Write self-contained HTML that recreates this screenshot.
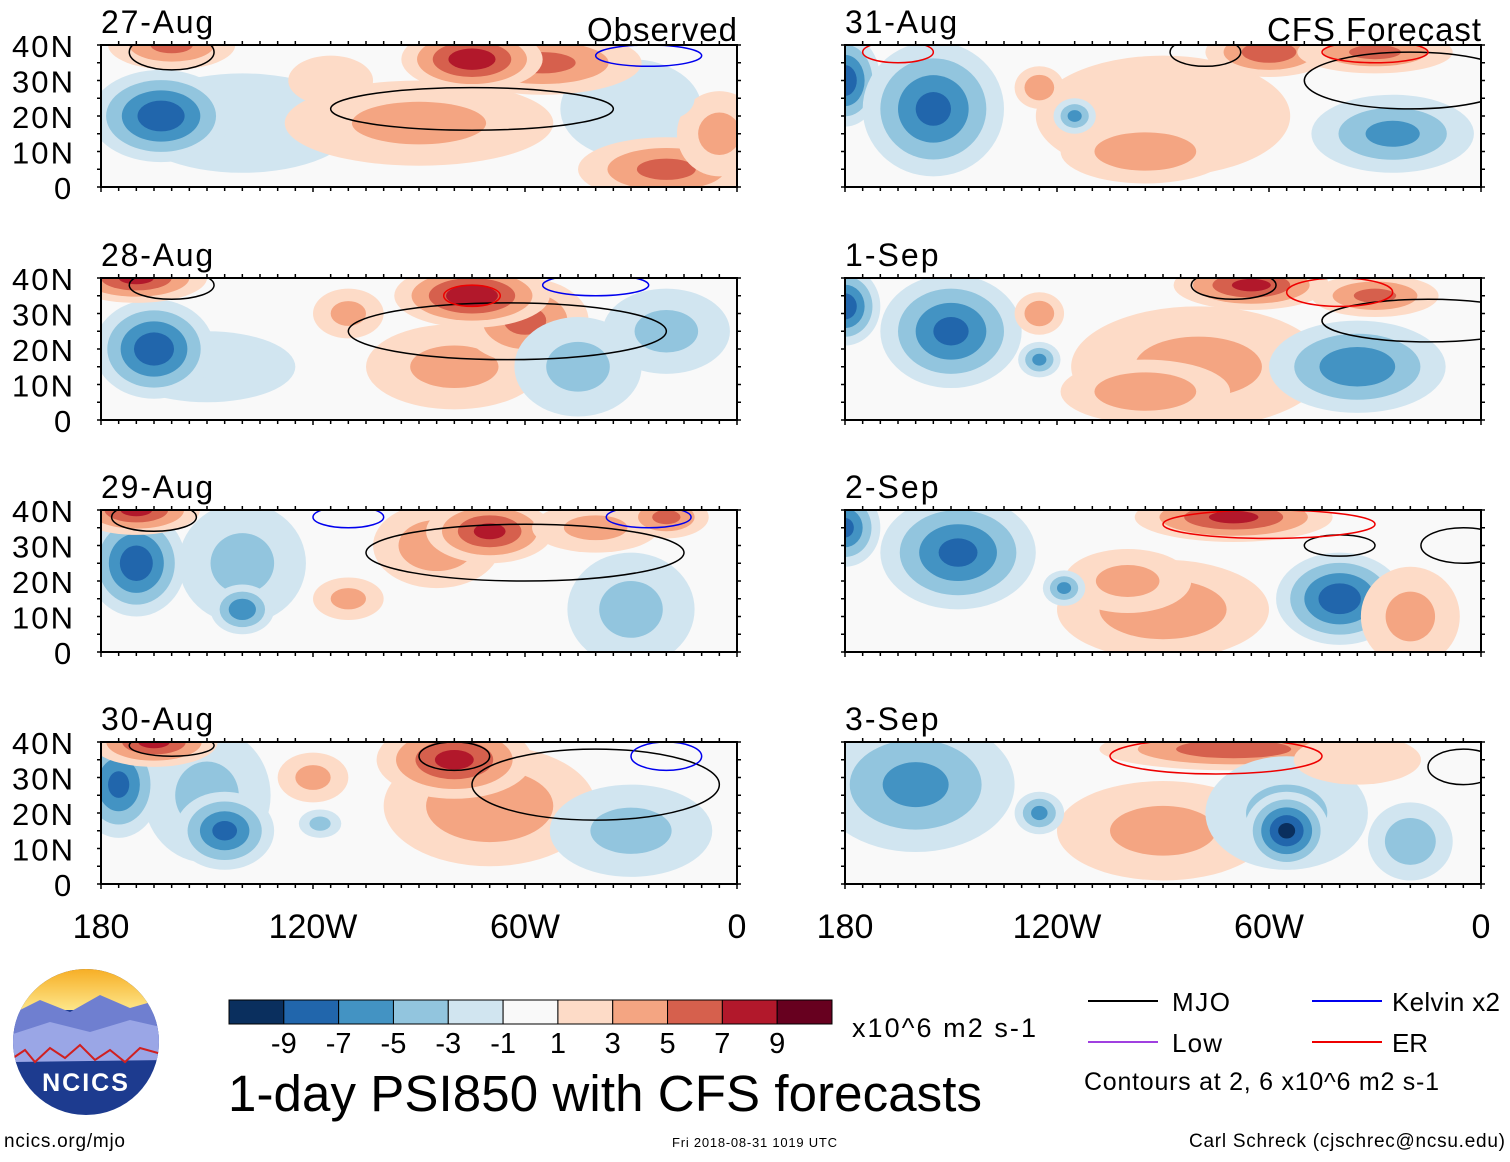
<!DOCTYPE html>
<html><head><meta charset="utf-8">
<style>
body{margin:0;background:#fff;width:1510px;height:1157px;overflow:hidden;font-family:"Liberation Sans",sans-serif;}
svg text{font-family:"Liberation Sans",sans-serif;}
</style></head>
<body>
<svg id="fig" width="1510" height="1157" xmlns="http://www.w3.org/2000/svg">
<defs>
<linearGradient id="sky" x1="0" y1="0" x2="0" y2="1"><stop offset="0" stop-color="#f6a91c"/><stop offset="1" stop-color="#fde68a"/></linearGradient>
<clipPath id="logoclip"><circle cx="86" cy="1042" r="73"/></clipPath>
</defs>
<g id="panels"></g>
<g clip-path="url(#logoclip)">
<rect x="10" y="965" width="155" height="160" fill="#1d3b8f"/>
<rect x="10" y="965" width="155" height="45" fill="url(#sky)"/>
<path d="M10 1015 L40 1000 L70 1012 L100 995 L130 1008 L165 998 L165 1040 L10 1045Z" fill="#6f7fd0"/>
<path d="M10 1035 L50 1022 L90 1032 L130 1020 L165 1028 L165 1060 L10 1062Z" fill="#9aa6e6"/>
<path d="M10 1060 L25 1050 L35 1062 L50 1048 L65 1058 L80 1045 L95 1060 L110 1050 L125 1062 L140 1048 L165 1055" fill="none" stroke="#d02020" stroke-width="2"/>
</g>
<text x="86" y="1091" font-size="25" font-weight="bold" fill="#fff" text-anchor="middle" letter-spacing="2">NCICS</text>
<text x="4" y="1147" font-size="19" textLength="121">ncics.org/mjo</text>
<text x="672" y="1147" font-size="13" textLength="165">Fri 2018-08-31 1019 UTC</text>
<text x="1189" y="1147" font-size="19" textLength="316">Carl Schreck (cjschrec@ncsu.edu)</text>
<text x="228" y="1111" font-size="51" textLength="754">1-day PSI850 with CFS forecasts</text>
<g id="cbar"></g>
<text x="852" y="1037" font-size="27" textLength="184">x10^6 m2 s-1</text>
<g>
<line x1="1088" y1="1001" x2="1158" y2="1001" stroke="#000" stroke-width="2"/><text x="1172" y="1011" font-size="26" textLength="58">MJO</text>
<line x1="1312" y1="1001" x2="1382" y2="1001" stroke="#0000ee" stroke-width="2"/><text x="1392" y="1011" font-size="26" textLength="108">Kelvin x2</text>
<line x1="1088" y1="1042" x2="1158" y2="1042" stroke="#a040e0" stroke-width="2"/><text x="1172" y="1052" font-size="26" textLength="50">Low</text>
<line x1="1312" y1="1042" x2="1382" y2="1042" stroke="#ee0000" stroke-width="2"/><text x="1392" y="1052" font-size="26" textLength="36">ER</text>
<text x="1084" y="1090" font-size="25" textLength="355">Contours at 2, 6 x10^6 m2 s-1</text>
</g>
</svg>
<script>
const colors=["#0a2f5e","#2166ac","#4393c3","#92c5de","#d1e5f0","#f9f9f9","#fddbc7","#f4a582","#d6604d","#b2182b","#67001f"];
const cbLabels=["-9","-7","-5","-3","-1","1","3","5","7","9"];
const panelDates=["27-Aug","28-Aug","29-Aug","30-Aug","31-Aug","1-Sep","2-Sep","3-Sep"];
const latTicks=["40N","30N","20N","10N","0"];
const lonTicks=["180","120W","60W","0"];
// blobs: [lon, lat, lonRadius, latRadius, peakValue]
const blobs0=[[-140,18,32,14,-2],[-30,22,20,14,-2],[-163,20,20,13,-8],[-90,18,38,12,3],[-55,35,28,9,5],[-75,36,20,9,8],[-160,40,18,7,5],[-20,5,25,9,5],[-5,15,12,12,3],[-115,30,12,7,2],[-20,25,8,6,-2]];
const blobs1=[[-150,15,25,10,-2],[-165,20,17,14,-8],[-170,40,20,7,7],[-80,15,25,12,3],[-60,28,18,12,5],[-75,35,22,9,8],[-45,15,18,14,-3],[-20,25,18,12,-3],[-140,15,12,6,-2],[-110,30,10,7,3]];
const blobs2=[[-140,25,18,17,-3],[-170,25,14,15,-8],[-140,12,9,7,-6],[-170,40,18,7,7],[-85,30,18,12,4],[-70,34,18,9,7],[-40,35,18,7,3],[-30,12,18,16,-3],[-110,15,10,6,3],[-20,38,12,6,5]];
const blobs3=[[-150,25,18,19,-3],[-175,28,12,15,-7],[-145,15,14,11,-7],[-165,40,18,7,7],[-70,22,30,17,4],[-80,35,22,11,7],[-30,15,23,13,-3],[-120,30,10,7,3],[-118,17,6,4,-3]];
const blobs4=[[-90,20,36,17,2],[-95,10,24,9,4],[-180,30,10,13,-8],[-155,22,20,19,-7],[-115,20,6,5,-5],[-60,38,18,7,6],[-30,38,22,6,5],[-125,28,7,6,4],[-25,15,23,11,-5]];
const blobs5=[[-80,15,36,17,3],[-95,8,24,9,4],[-180,32,10,11,-8],[-150,25,20,16,-7],[-125,17,6,5,-5],[-65,38,22,7,7],[-30,35,18,6,5],[-125,30,7,6,4],[-35,15,25,13,-6]];
const blobs6=[[-90,12,30,14,4],[-100,20,18,9,3],[-180,35,10,11,-7],[-148,28,22,16,-7],[-118,18,6,5,-5],[-70,38,28,7,7],[-40,15,18,13,-8],[-20,10,14,14,3]];
const blobs7=[[-90,15,30,14,3],[-160,28,28,19,-5],[-125,20,7,6,-5],[-70,38,38,6,6],[-55,20,23,16,-3],[-55,15,12,11,-9],[-20,12,12,11,-4],[-35,35,18,7,2]];
const allBlobs=[blobs0,blobs1,blobs2,blobs3,blobs4,blobs5,blobs6,blobs7];
// contours: [lon, lat, lonRadius, latRadius, type] type 0=MJO black,1=Kelvin blue,2=ER red
const cont0=[[-75,22,40,6,0],[-160,38,12,5,0],[-25,37,15,3,1]];
const cont1=[[-65,25,45,8,0],[-160,38,12,4,0],[-40,38,15,3,1],[-75,35,8,3,2]];
const cont2=[[-60,28,45,8,0],[-165,38,12,4,0],[-25,38,12,3,1],[-110,38,10,3,1]];
const cont3=[[-40,28,35,10,0],[-160,39,12,3,0],[-80,36,10,4,0],[-20,36,10,4,1]];
const cont4=[[-20,30,30,8,0],[-78,38,10,4,0],[-30,38,15,3,2],[-165,38,10,3,2]];
const cont5=[[-15,28,30,6,0],[-70,38,12,4,0],[-40,36,15,4,2]];
const cont6=[[-40,30,10,3,0],[-5,30,12,5,0],[-60,36,30,4,2]];
const cont7=[[-5,33,10,5,0],[-75,36,30,5,2]];
const allConts=[cont0,cont1,cont2,cont3,cont4,cont5,cont6,cont7];
const NS="http://www.w3.org/2000/svg";
const fig=document.getElementById('panels');
function mk(t,a,p){const e=document.createElementNS(NS,t);for(const k in a)e.setAttribute(k,a[k]);p.appendChild(e);return e;}
const rows=[45,278,510,742];const cols=[101,845];const W=636,H=142;
function colorFor(L){return colors[L>0?6+(L-1)/2:4-(-L-1)/2];}
for(let p=0;p<8;p++){
  const x0=cols[p<4?0:1],y0=rows[p%4];
  const xS=lon=>x0+(lon+180)/180*W;
  const yS=lat=>y0+(40-lat)/40*H;
  const g=mk('g',{},fig);
  
  
  const cp=mk('clipPath',{id:'c'+p},g);
  mk('rect',{x:x0,y:y0,width:W,height:H},cp);
  const inner=mk('g',{'clip-path':'url(#c'+p+')'},g);
  mk('rect',{x:x0,y:y0,width:W,height:H,fill:'#f9f9f9'},inner);
  allBlobs[p].forEach(b=>{
    const [lon,lat,rx,ry,v]=b;const sg=v>0?1:-1;const V=Math.abs(v);
    for(let L=1;L<=V;L+=2){
      const s=1-(L-1)/(V+1);
      const el=mk('ellipse',{cx:xS(lon),cy:yS(lat),rx:rx*W/180*s,ry:ry*H/40*s,fill:colorFor(sg*L)},inner);
      
      
    }
  });
  const cc=['#000','#0000ee','#ee0000'];
  allConts[p].forEach(c=>{
    const el=mk('ellipse',{cx:xS(c[0]),cy:yS(c[1]),rx:c[2]*W/180,ry:c[3]*H/40,fill:'none',stroke:cc[c[4]],'stroke-width':1.5},inner);
    
    
  });
  mk('rect',{x:x0,y:y0,width:W,height:H,fill:'none',stroke:'#000','stroke-width':2},g);
  for(let i=0;i<=36;i++){const x=x0+i*W/36;const big=i%12==0;
    mk('line',{x1:x,x2:x,y1:y0,y2:y0-(big?0:4),stroke:'#000','stroke-width':1.5},g);
    mk('line',{x1:x,x2:x,y1:y0+H,y2:y0+H+(big?5:4),stroke:'#000','stroke-width':1.5},g);}
  for(let i=0;i<=8;i++){const y=y0+i*H/8;
    mk('line',{x1:x0-4,x2:x0,y1:y,y2:y,stroke:'#000','stroke-width':1.5},g);
    mk('line',{x1:x0+W,x2:x0+W+4,y1:y,y2:y,stroke:'#000','stroke-width':1.5},g);}
  const dl=panelDates[p].length;
  const t=mk('text',{x:x0,y:y0-12,'font-size':32,textLength:dl*18.7},g);t.textContent=panelDates[p];
  
  if(p==0||p==4){const lab=p==0?'Observed':'CFS Forecast';const tw=p==0?150:214;
    const t2=mk('text',{x:x0+W-tw,y:y0-4,'font-size':33,textLength:tw},g);t2.textContent=lab;
    }
  if(p<4){latTicks.forEach((l,i)=>{const w=l.length==1?19:61;
    const tt=mk('text',{x:x0-28-w,y:y0+i*H/4+12,'font-size':31,textLength:w},g);tt.textContent=l;
    });}
  if(p%4==3){lonTicks.forEach((l,i)=>{const tt=mk('text',{x:x0+i*W/3,y:938,'font-size':34,'text-anchor':'middle'},g);tt.textContent=l;
    });}
}
const cb=document.getElementById('cbar');const cw=603/11;
colors.forEach((c,i)=>{const r=mk('rect',{x:229+i*cw,y:1000,width:cw,height:24,fill:c,stroke:'#000','stroke-width':1},cb);
  });
cbLabels.forEach((l,i)=>{const t=mk('text',{x:229+(i+1)*cw,y:1053,'font-size':29,'text-anchor':'middle'},cb);t.textContent=l;
  });
</script>
</body></html>
